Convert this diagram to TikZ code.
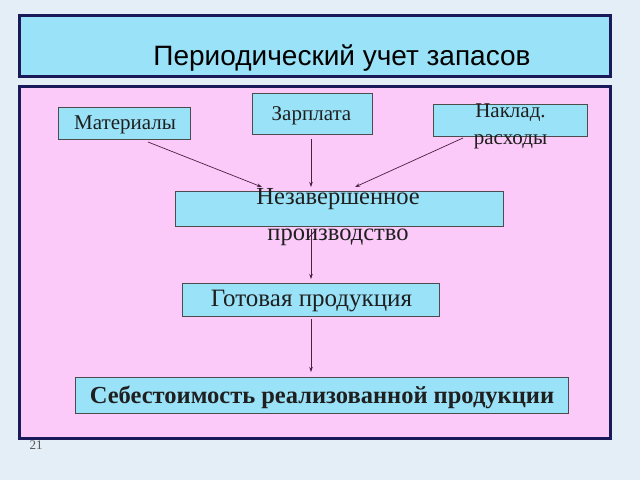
\documentclass[tikz,border=0pt]{standalone}
\usepackage{fontspec}
\setmainfont{Liberation Serif}
\setsansfont{Liberation Sans}
\usetikzlibrary{arrows.meta}
\definecolor{bgc}{HTML}{E4EEF6}
\definecolor{cyanfill}{HTML}{99E2F8}
\definecolor{pinkfill}{HTML}{FBCAF8}
\definecolor{navy}{HTML}{1A1A5A}
\definecolor{arrc}{HTML}{4A2040}
\tikzset{
  frame/.style={draw=navy, line width=3pt},
  box/.style={draw=black!70, line width=0.8pt, fill=cyanfill},
  lbl/.style={font=\fontsize{21}{21}\selectfont, text=black!88, inner sep=0pt},
  conn/.style={draw=arrc, line width=0.7pt, -{Stealth[length=5pt,width=3.5pt]}}
}
\begin{document}
\begin{tikzpicture}[x=1pt,y=-1pt]
\fill[bgc] (0,0) rectangle (640,480);
\useasboundingbox (0,0) rectangle (640,480);
% title
\draw[frame, fill=cyanfill] (19,15) rectangle (610,76);
\node[font=\sffamily\fontsize{28}{28}\selectfont, inner sep=0pt] (title) at (342,58.5) {Периодический учет запасов};
% pink panel
\draw[frame, fill=pinkfill] (19,86) rectangle (610,438);
% boxes
\draw[box] (58,107) rectangle (190,139);
\node[lbl] (mat) at (125,125) {Материалы};
\draw[box] (252,93) rectangle (372,134);
\node[lbl] (zar) at (311.5,116) {Зарплата};
\draw[box] (433,104) rectangle (587,136);
\node[lbl, align=center, font=\fontsize{21}{27}\selectfont] (nak) at (510.5,126) {Наклад.\\расходы};
\draw[box] (175,191) rectangle (503,226);
\node[lbl, align=center, font=\fontsize{24.5}{36}\selectfont] (nez) at (338,217) {Незавершенное\\производство};
\draw[box] (182,283) rectangle (439,316);
\node[lbl, font=\fontsize{25}{25}\selectfont] (got) at (311.5,301) {Готовая продукция};
\draw[box] (75,377) rectangle (568,413);
\node[lbl, font=\bfseries\fontsize{24.5}{24.5}\selectfont] (seb) at (322,397) {Себестоимость реализованной продукции};
% connector end points
\coordinate (a1) at (148,142);
\coordinate (b1) at (262,187);
\coordinate (a2) at (311,139);
\coordinate (b2) at (311,187);
\coordinate (a3) at (463,138);
\coordinate (b3) at (355,187);
\coordinate (a4) at (311,229);
\coordinate (b4) at (311,279);
\coordinate (a5) at (311,319);
\coordinate (b5) at (311,372);
\draw[conn] (a1) -- (b1);
\draw[conn] (a2) -- (b2);
\draw[conn] (a3) -- (b3);
\draw[conn] (a4) -- (b4);
\draw[conn] (a5) -- (b5);
\node[font=\fontsize{13}{13}\selectfont, text=black!65, inner sep=0pt] (num) at (36,445) {21};
\end{tikzpicture}
\end{document}
